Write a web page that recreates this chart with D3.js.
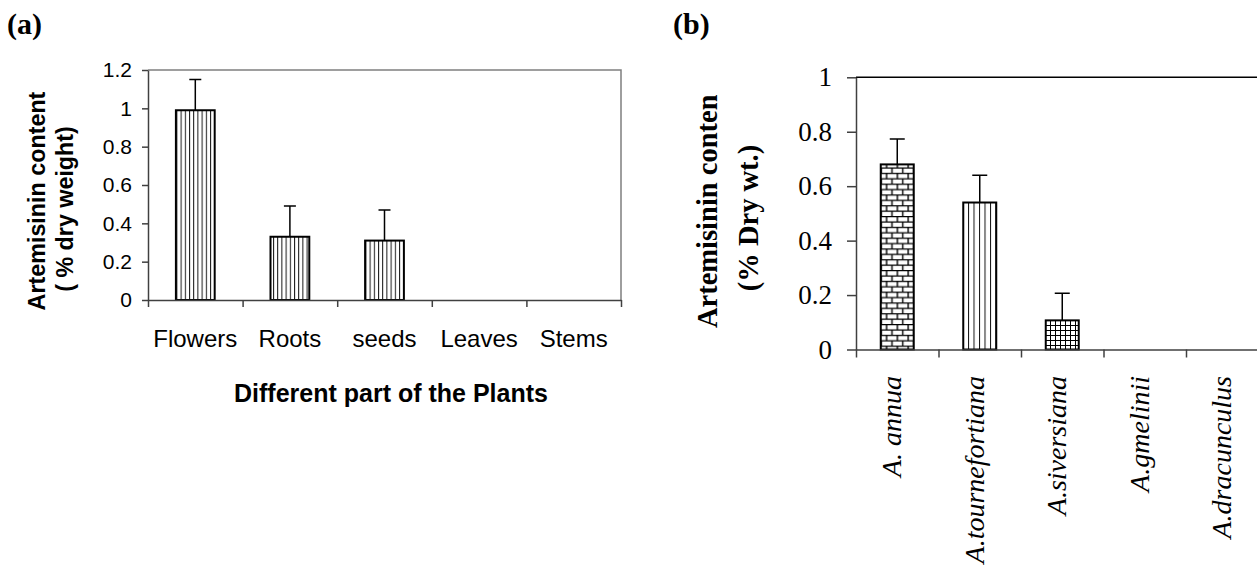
<!DOCTYPE html>
<html>
<head>
<meta charset="utf-8">
<script src="https://cdn.jsdelivr.net/npm/d3@7"></script>
<style>
  body { margin: 0; background: #fff; }
  svg { display: block; }
  .sans { font-family: "Liberation Sans", Arial, sans-serif; }
  .serif { font-family: "Liberation Serif", "Times New Roman", serif; }
</style>
</head>
<body>
<svg id="chart" width="1257" height="567"></svg>
<script>
// panel (a) data
const partsA = ["Flowers", "Roots", "seeds", "Leaves", "Stems"];
const valuesA = [0.99, 0.33, 0.31, 0, 0];
const errorsA = [0.16, 0.16, 0.16, 0, 0];
const ticksA = [0, 0.2, 0.4, 0.6, 0.8, 1, 1.2];

// panel (b) data
const speciesB = ["A. annua", "A.tournefortiana", "A.siversiana", "A.gmelinii", "A.dracunculus"];
const valuesB = [0.68, 0.54, 0.107, 0, 0];
const errorsB = [0.093, 0.10, 0.10, 0, 0];
const patternB = ["brick", "stripeB", "grid", "stripeB", "stripeB"];
const ticksB = [0, 0.2, 0.4, 0.6, 0.8, 1];

const svg = d3.select("#chart");
svg.append("rect").attr("width", 1257).attr("height", 567).attr("fill", "#fff");

// ---------- patterns ----------
const defs = svg.append("defs");
function stripes(id, step) {
  const p = defs.append("pattern").attr("id", id).attr("patternUnits", "userSpaceOnUse")
    .attr("width", step).attr("height", 10);
  p.append("rect").attr("width", step).attr("height", 10).attr("fill", "#fff");
  p.append("line").attr("x1", 0.5).attr("x2", 0.5).attr("y1", 0).attr("y2", 10)
    .attr("stroke", "#111").attr("stroke-width", 1);
}
stripes("stripeA", 4.2);
stripes("stripeB", 5.5);

const brick = defs.append("pattern").attr("id", "brick").attr("patternUnits", "userSpaceOnUse")
  .attr("width", 10.8).attr("height", 10.8);
brick.append("rect").attr("width", 10.8).attr("height", 10.8).attr("fill", "#fff");
brick.append("path")
  .attr("d", "M0,0.6H10.8M0,6H10.8M1,0V5.4M6.4,5.4V10.8")
  .attr("stroke", "#000").attr("stroke-width", 1.4).attr("fill", "none");

const grid = defs.append("pattern").attr("id", "grid").attr("patternUnits", "userSpaceOnUse")
  .attr("width", 5).attr("height", 5);
grid.append("rect").attr("width", 5).attr("height", 5).attr("fill", "#fff");
grid.append("path").attr("d", "M0,0.5H5M0.5,0V5")
  .attr("stroke", "#000").attr("stroke-width", 1).attr("fill", "none");

defs.append("clipPath").attr("id", "ylabB")
  .append("rect").attr("x", 640).attr("y", 95).attr("width", 160).attr("height", 400);

// ---------- panel (a) ----------
const xA = d3.scaleBand().domain(partsA).range([148, 621]);
const xTickA = d3.scaleLinear().domain([0, partsA.length]).range([148, 621]);
const yA = d3.scaleLinear().domain([0, 1.2]).range([300, 70]);

const gA = svg.append("g");

// plot area border (top / right)
gA.append("path")
  .attr("d", `M${xTickA(0)},${yA(1.2)}H${xTickA(5)}V${yA(0)}`)
  .attr("fill", "none").attr("stroke", "#7f7f7f").attr("stroke-width", 1.5);

const barWA = xA.bandwidth() * 0.41;
gA.selectAll("rect.bar").data(partsA).join("rect")
  .attr("class", "bar")
  .filter((d, i) => valuesA[i] > 0)
  .attr("x", d => xA(d) + (xA.bandwidth() - barWA) / 2)
  .attr("y", (d, i) => yA(valuesA[i]))
  .attr("width", barWA)
  .attr("height", (d, i) => yA(0) - yA(valuesA[i]))
  .attr("fill", "url(#stripeA)")
  .attr("stroke", "#000").attr("stroke-width", 2);

// error bars
partsA.forEach((p, i) => {
  if (!errorsA[i]) return;
  const cx = xA(p) + xA.bandwidth() / 2;
  gA.append("path")
    .attr("d", `M${cx},${yA(valuesA[i])}V${yA(valuesA[i] + errorsA[i])}M${cx - 6},${yA(valuesA[i] + errorsA[i])}H${cx + 6}`)
    .attr("stroke", "#000").attr("stroke-width", 1.5).attr("fill", "none");
});

const yAxisA = gA.append("g").attr("transform", "translate(148,0)")
  .call(d3.axisLeft(yA).tickValues(ticksA).tickSize(6).tickSizeOuter(0).tickPadding(10)
    .tickFormat(d => String(d)));
const xAxisA = gA.append("g").attr("transform", `translate(0,${yA(0)})`)
  .call(d3.axisBottom(xTickA).tickValues(d3.range(0, 6)).tickSize(7).tickSizeOuter(0).tickFormat(""));
[yAxisA, xAxisA].forEach(ax => {
  ax.selectAll("path, line").attr("stroke", "#404040").attr("stroke-width", 1.5);
});
yAxisA.selectAll("text").attr("class", "sans").attr("font-size", 21).attr("fill", "#000");

gA.selectAll("text.catA").data(partsA).join("text")
  .attr("class", "catA sans")
  .attr("x", d => xA(d) + xA.bandwidth() / 2)
  .attr("y", 347)
  .attr("text-anchor", "middle").attr("font-size", 24)
  .text(d => d);

gA.append("text").attr("class", "sans")
  .attr("x", 391).attr("y", 402).attr("text-anchor", "middle")
  .attr("font-size", 25).attr("font-weight", "bold")
  .text("Different part of the Plants");

gA.append("text").attr("class", "sans")
  .attr("transform", "translate(45,201) rotate(-90)")
  .attr("text-anchor", "middle").attr("font-size", 23.3).attr("font-weight", "bold")
  .text("Artemisinin content");
gA.append("text").attr("class", "sans")
  .attr("transform", "translate(73,209) rotate(-90)")
  .attr("text-anchor", "middle").attr("font-size", 23.3).attr("font-weight", "bold")
  .text("( % dry weight)");

svg.append("text").attr("class", "serif")
  .attr("x", 7).attr("y", 34).attr("font-size", 30).attr("font-weight", "bold")
  .text("(a)");

// ---------- panel (b) ----------
const xB = d3.scaleBand().domain(speciesB).range([856, 856 + 5 * 82.5]);
const xTickB = d3.scaleLinear().domain([0, speciesB.length]).range([856, 856 + 5 * 82.5]);
const yB = d3.scaleLinear().domain([0, 1]).range([349.5, 77.3]);

const gB = svg.append("g");

gB.append("path")
  .attr("d", `M${xTickB(0)},${yB(1)}H${xTickB(5)}`)
  .attr("fill", "none").attr("stroke", "#000").attr("stroke-width", 1.5);

const barWB = xB.bandwidth() * 0.4;
gB.selectAll("rect.bar").data(speciesB).join("rect")
  .attr("class", "bar")
  .filter((d, i) => valuesB[i] > 0)
  .attr("x", d => xB(d) + (xB.bandwidth() - barWB) / 2)
  .attr("y", (d, i) => yB(valuesB[i]))
  .attr("width", barWB)
  .attr("height", (d, i) => yB(0) - yB(valuesB[i]))
  .attr("fill", (d, i) => `url(#${patternB[i]})`)
  .attr("stroke", "#000").attr("stroke-width", 2);

speciesB.forEach((s, i) => {
  if (!errorsB[i]) return;
  const cx = xB(s) + xB.bandwidth() / 2;
  gB.append("path")
    .attr("d", `M${cx},${yB(valuesB[i])}V${yB(valuesB[i] + errorsB[i])}M${cx - 7.5},${yB(valuesB[i] + errorsB[i])}H${cx + 7.5}`)
    .attr("stroke", "#000").attr("stroke-width", 1.5).attr("fill", "none");
});

const yAxisB = gB.append("g").attr("transform", "translate(856,0)")
  .call(d3.axisLeft(yB).tickValues(ticksB).tickSize(9).tickSizeOuter(0).tickPadding(15)
    .tickFormat(d => String(d)));
const xAxisB = gB.append("g").attr("transform", `translate(0,${yB(0)})`)
  .call(d3.axisBottom(xTickB).tickValues(d3.range(0, 6)).tickSize(8).tickSizeOuter(0).tickFormat(""));
[yAxisB, xAxisB].forEach(ax => {
  ax.selectAll("path, line").attr("stroke", "#404040").attr("stroke-width", 1.5);
});
yAxisB.selectAll("text").attr("class", "serif").attr("font-size", 27).attr("fill", "#000");

gB.selectAll("text.catB").data(speciesB).join("text")
  .attr("class", "catB serif")
  .attr("transform", d => `translate(${xB(d) + xB.bandwidth() / 2},376) rotate(-90)`)
  .attr("text-anchor", "end").attr("dy", "0.15em")
  .attr("font-size", 28).attr("font-style", "italic")
  .text(d => d);

const yLabB = gB.append("g").attr("clip-path", "url(#ylabB)");
yLabB.append("text").attr("class", "serif")
  .attr("transform", "translate(717,328) rotate(-90)")
  .attr("text-anchor", "start").attr("font-size", 28.5).attr("font-weight", "bold")
  .text("Artemisinin content");
yLabB.append("text").attr("class", "serif")
  .attr("transform", "translate(758,218) rotate(-90)")
  .attr("text-anchor", "middle").attr("font-size", 28.5).attr("font-weight", "bold")
  .text("(% Dry wt.)");

svg.append("text").attr("class", "serif")
  .attr("x", 673).attr("y", 34).attr("font-size", 30).attr("font-weight", "bold")
  .text("(b)");
</script>
</body>
</html>
